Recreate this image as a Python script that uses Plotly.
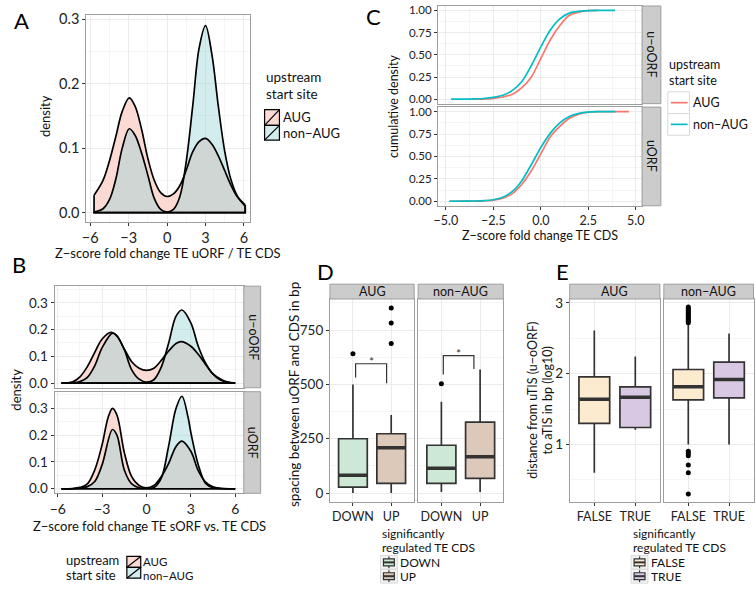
import plotly.graph_objects as go

# ---- data ----
# A: density of Z-score fold change TE uORF / TE CDS
a_aug_x = [-5.7, -5.0, -4.5, -4.0, -3.5, -2.95, -2.5, -2.0, -1.5, -1.0, -0.5, 0.0, 0.5, 1.0, 1.5, 2.0, 2.5, 3.0, 3.5, 4.0, 4.5, 5.0, 5.5, 6.1]
a_aug_y = [0.027, 0.05, 0.08, 0.118, 0.157, 0.178, 0.165, 0.13, 0.084, 0.05, 0.031, 0.025, 0.029, 0.042, 0.066, 0.094, 0.11, 0.115, 0.106, 0.088, 0.065, 0.042, 0.024, 0.01]
a_non_x = [-5.7, -5.0, -4.5, -4.0, -3.5, -2.95, -2.5, -2.0, -1.5, -1.0, -0.5, 0.0, 0.5, 1.0, 1.5, 2.0, 2.5, 3.0, 3.5, 4.0, 4.5, 5.0, 5.5, 6.1]
a_non_y = [0.001, 0.006, 0.02, 0.052, 0.1, 0.13, 0.12, 0.093, 0.058, 0.022, 0.005, 0.001, 0.005, 0.025, 0.08, 0.165, 0.255, 0.29, 0.245, 0.165, 0.095, 0.05, 0.025, 0.012]

# B: density by ORF type (facets u-oORF / uORF)
b_uo_aug_x = [-5.75, -5.0, -4.5, -4.0, -3.5, -3.0, -2.4, -2.0, -1.5, -1.0, -0.5, 0.0, 0.5, 1.0, 1.5, 2.0, 2.35, 3.0, 3.5, 4.0, 4.5, 5.0, 5.5, 6.0]
b_uo_aug_y = [0.0, 0.005, 0.024, 0.062, 0.115, 0.165, 0.19, 0.175, 0.128, 0.08, 0.056, 0.048, 0.056, 0.085, 0.12, 0.148, 0.155, 0.138, 0.108, 0.07, 0.035, 0.016, 0.004, 0.0]
b_uo_non_x = [-5.75, -5.0, -4.5, -4.0, -3.5, -3.0, -2.3, -2.0, -1.5, -1.0, -0.5, 0.0, 0.5, 1.0, 1.5, 2.0, 2.4, 3.0, 3.5, 4.0, 4.5, 5.0, 5.5, 6.0]
b_uo_non_y = [0.0, 0.001, 0.006, 0.022, 0.065, 0.133, 0.187, 0.178, 0.125, 0.05, 0.015, 0.004, 0.013, 0.06, 0.15, 0.25, 0.273, 0.225, 0.138, 0.075, 0.034, 0.012, 0.003, 0.0]
b_u_aug_x = [-5.75, -5.0, -4.5, -4.0, -3.5, -3.0, -2.6, -2.3, -2.0, -1.5, -1.0, -0.5, 0.0, 0.5, 1.0, 1.5, 2.0, 2.4, 3.0, 3.5, 4.0, 4.5, 5.0, 6.0]
b_u_aug_y = [0.0, 0.001, 0.005, 0.018, 0.07, 0.165, 0.265, 0.3, 0.275, 0.135, 0.045, 0.012, 0.003, 0.012, 0.045, 0.095, 0.158, 0.178, 0.14, 0.068, 0.025, 0.007, 0.002, 0.0]
b_u_non_x = [-5.75, -5.0, -4.5, -4.0, -3.5, -3.0, -2.3, -2.0, -1.5, -1.0, -0.5, 0.0, 0.5, 1.0, 1.5, 2.0, 2.4, 2.8, 3.0, 3.5, 4.0, 4.5, 5.0, 6.0]
b_u_non_y = [0.0, 0.0, 0.002, 0.008, 0.027, 0.09, 0.221, 0.2, 0.07, 0.018, 0.004, 0.001, 0.005, 0.04, 0.16, 0.3, 0.345, 0.27, 0.21, 0.09, 0.02, 0.004, 0.001, 0.0]

# C: cumulative density of Z-score fold change TE CDS
c_uo_aug_x = [-3.6, -3.0, -2.5, -2.0, -1.5, -1.0, -0.5, 0.0, 0.5, 1.0, 1.5, 2.0, 2.5, 3.0]
c_uo_aug_y = [0.0, 0.002, 0.008, 0.025, 0.055, 0.13, 0.25, 0.46, 0.67, 0.83, 0.945, 0.98, 0.997, 1.0]
c_uo_non_x = [-4.73, -4.0, -3.5, -3.0, -2.5, -2.0, -1.5, -1.0, -0.5, 0.0, 0.5, 1.0, 1.5, 2.0, 2.5, 3.0, 3.91]
c_uo_non_y = [0.0, 0.001, 0.003, 0.008, 0.02, 0.045, 0.1, 0.2, 0.38, 0.59, 0.78, 0.905, 0.97, 0.99, 0.998, 1.0, 1.0]
c_u_aug_x = [-4.82, -4.0, -3.5, -3.0, -2.5, -2.0, -1.5, -1.0, -0.5, 0.0, 0.5, 1.0, 1.5, 2.0, 2.5, 3.0, 4.0, 4.64]
c_u_aug_y = [0.0, 0.001, 0.002, 0.005, 0.013, 0.035, 0.085, 0.19, 0.34, 0.53, 0.72, 0.835, 0.925, 0.97, 0.993, 0.999, 1.0, 1.0]
c_u_non_x = [-4.82, -4.0, -3.5, -3.0, -2.5, -2.0, -1.5, -1.0, -0.5, 0.0, 0.5, 1.0, 1.5, 2.0, 2.5, 3.0, 3.93]
c_u_non_y = [0.0, 0.001, 0.003, 0.007, 0.017, 0.045, 0.11, 0.23, 0.41, 0.6, 0.76, 0.875, 0.945, 0.98, 0.995, 0.999, 1.0]

# D: spacing between uORF and CDS (bp), boxes DOWN / UP
d_groups = ["DOWN", "UP"]
d_aug_low = [0, 0]
d_aug_q1 = [27, 45]
d_aug_med = [82, 209]
d_aug_q3 = [250, 273]
d_aug_high = [500, 359]
d_aug_out = [[641], [688, 783, 851]]
d_non_low = [5, 5]
d_non_q1 = [45, 68]
d_non_med = [114, 167]
d_non_q3 = [220, 326]
d_non_high = [420, 568]
d_non_out = [[503], []]
d_aug_bracket_x = [1.07, 1.07, 1.88, 1.88]
d_aug_bracket_y = [532, 595, 595, 505]
d_non_bracket_x = [1.05, 1.05, 1.84, 1.84]
d_non_bracket_y = [545, 632, 632, 571]

# E: distance uTIS to aTIS (log10 bp), boxes FALSE / TRUE
e_groups = ["FALSE", "TRUE"]
e_aug_low = [0.6, 1.21]
e_aug_q1 = [1.30, 1.24]
e_aug_med = [1.64, 1.667]
e_aug_q3 = [1.955, 1.815]
e_aug_high = [2.61, 2.245]
e_aug_out = [[], []]
e_non_low = [1.0, 1.0]
e_non_q1 = [1.63, 1.66]
e_non_med = [1.815, 1.92]
e_non_q3 = [2.06, 2.165]
e_non_high = [2.70, 2.57]
e_non_out = [[2.72, 2.74, 2.76, 2.78, 2.8, 2.82, 2.84, 2.86, 2.88, 2.9, 2.92, 2.944,
              0.906, 0.874, 0.84, 0.71, 0.6, 0.3], []]

# ---- styling ----
W, H = 756, 593
FONT = "Lato"
RED = "#F8766D"
TEAL = "#00BFC4"
PINK_FILL = "rgb(251,218,212)"
CYAN_FILL = "rgba(145,207,212,0.4)"
CYAN_KEY = "rgb(211,236,238)"
D_COLORS = ["#CDE8D5", "#DCC9BA"]
E_COLORS = ["#FDEBD0", "#D8C8E4"]
GRID = "#EBEBEB"
MINOR = "#F5F5F5"
BORDER = "#9E9E9E"
STRIP = "#CCCCCC"
DARK = "#333333"


def xd(a, b):
    return [a / W, b / W]


def yd(top, bottom):
    return [1 - bottom / H, 1 - top / H]


def px(x):
    return x / W


def py(y):
    return 1 - y / H


fig = go.Figure()


def add_density_pair(aug, non, xa, ya):
    for (xs, ys), color in ((aug, PINK_FILL), (non, CYAN_FILL)):
        fig.add_trace(go.Scatter(x=xs, y=ys, mode="lines", fill="tozeroy", fillcolor=color,
                                 line=dict(width=0, shape="spline"), xaxis=xa, yaxis=ya,
                                 hoverinfo="skip", showlegend=False))
    for xs, ys in (aug, non):
        fig.add_trace(go.Scatter(x=xs, y=ys, mode="lines",
                                 line=dict(color="black", width=1.7, shape="spline"),
                                 xaxis=xa, yaxis=ya, hoverinfo="skip", showlegend=False))
        # closing edges down to the baseline
        fig.add_trace(go.Scatter(x=[xs[0], xs[0], xs[-1], xs[-1]], y=[ys[0], 0, 0, ys[-1]],
                                 mode="lines", line=dict(color="black", width=1.7),
                                 xaxis=xa, yaxis=ya, hoverinfo="skip", showlegend=False))


add_density_pair((a_aug_x, a_aug_y), (a_non_x, a_non_y), "x", "y")
add_density_pair((b_uo_aug_x, b_uo_aug_y), (b_uo_non_x, b_uo_non_y), "x2", "y2")
add_density_pair((b_u_aug_x, b_u_aug_y), (b_u_non_x, b_u_non_y), "x3", "y3")

for (xs, ys), color, xa, ya in [
    ((c_uo_aug_x, c_uo_aug_y), RED, "x4", "y4"),
    ((c_uo_non_x, c_uo_non_y), TEAL, "x4", "y4"),
    ((c_u_aug_x, c_u_aug_y), RED, "x5", "y5"),
    ((c_u_non_x, c_u_non_y), TEAL, "x5", "y5"),
]:
    fig.add_trace(go.Scatter(x=xs, y=ys, mode="lines", line=dict(color=color, width=1.7, shape="spline", smoothing=0.8),
                             xaxis=xa, yaxis=ya, showlegend=False, name=""))


def add_boxes(low, q1, med, q3, high, outs, colors, xa, ya):
    for i in range(2):
        pos = i + 1
        fig.add_trace(go.Box(x=[pos], q1=[q1[i]], median=[med[i]], q3=[q3[i]],
                             lowerfence=[low[i]], upperfence=[high[i]], width=0.75,
                             fillcolor=colors[i], line=dict(color=DARK, width=1.7),
                             whiskerwidth=0, boxpoints=False, orientation="v",
                             xaxis=xa, yaxis=ya, showlegend=False))
        fig.add_trace(go.Scatter(x=[pos - 0.375, pos + 0.375], y=[med[i], med[i]], mode="lines",
                                 line=dict(color=DARK, width=3.5), xaxis=xa, yaxis=ya,
                                 hoverinfo="skip", showlegend=False))
        if outs[i]:
            fig.add_trace(go.Scatter(x=[pos] * len(outs[i]), y=outs[i], mode="markers",
                                     marker=dict(color="black", size=5), xaxis=xa, yaxis=ya,
                                     showlegend=False))


add_boxes(d_aug_low, d_aug_q1, d_aug_med, d_aug_q3, d_aug_high, d_aug_out, D_COLORS, "x6", "y6")
add_boxes(d_non_low, d_non_q1, d_non_med, d_non_q3, d_non_high, d_non_out, D_COLORS, "x7", "y7")
add_boxes(e_aug_low, e_aug_q1, e_aug_med, e_aug_q3, e_aug_high, e_aug_out, E_COLORS, "x8", "y8")
add_boxes(e_non_low, e_non_q1, e_non_med, e_non_q3, e_non_high, e_non_out, E_COLORS, "x9", "y9")

# significance brackets
for bx, by, xa, ya in [(d_aug_bracket_x, d_aug_bracket_y, "x6", "y6"),
                       (d_non_bracket_x, d_non_bracket_y, "x7", "y7")]:
    fig.add_trace(go.Scatter(x=bx, y=by, mode="lines", line=dict(color=DARK, width=1.2),
                             xaxis=xa, yaxis=ya, hoverinfo="skip", showlegend=False))
    fig.add_annotation(text="*", x=(bx[0] + bx[-1]) / 2, y=by[1], xref=xa, yref=ya,
                       showarrow=False, yanchor="middle", yshift=2,
                       font=dict(size=12, color=DARK, family=FONT))

# ---- axes ----
base = dict(showline=True, mirror=True, linecolor=BORDER, linewidth=1, gridcolor=GRID,
            zeroline=False, ticks="outside", ticklen=3, tickcolor=DARK)


def axis(domain, rng, fs=13, **kw):
    d = dict(base)
    d.update(domain=domain, range=rng, tickfont=dict(size=fs, color="#222", family=FONT))
    d.update(kw)
    return d


def hidden_ticks(d):
    d.update(showticklabels=False, ticks="")
    return d


mx = lambda dt, t0: dict(dtick=dt, tick0=t0, showgrid=True, gridcolor=MINOR)

layout_axes = {
    "xaxis": axis(xd(82, 247), [-6.31, 6.45], 14.5, tickvals=[-6, -3, 0, 3, 6], minor=mx(3, -4.5), anchor="y"),
    "yaxis": axis(yd(10, 220), [-0.0146, 0.3066], 14.5, tickvals=[0, 0.1, 0.2, 0.3], tickformat=".1f", minor=mx(0.1, 0.05), anchor="x"),
    "xaxis2": hidden_ticks(axis(xd(50, 241), [-6.22, 6.58], 14, tickvals=[-6, -3, 0, 3, 6], minor=mx(3, -4.5), anchor="y2")),
    "yaxis2": axis(yd(285, 388), [-0.017, 0.362], 13.5, tickvals=[0, 0.1, 0.2, 0.3], tickformat=".1f", minor=mx(0.1, 0.05), anchor="x2"),
    "xaxis3": axis(xd(50, 241), [-6.22, 6.58], 14, tickvals=[-6, -3, 0, 3, 6], minor=mx(3, -4.5), anchor="y3"),
    "yaxis3": axis(yd(392, 495), [-0.017, 0.362], 13.5, tickvals=[0, 0.1, 0.2, 0.3], tickformat=".1f", minor=mx(0.1, 0.05), anchor="x3"),
    "xaxis4": hidden_ticks(axis(xd(437, 643), [-5.42, 5.33], 12.5, tickvals=[-5, -2.5, 0, 2.5, 5], minor=mx(2.5, -3.75), anchor="y4")),
    "yaxis4": axis(yd(1, 100), [-0.05, 1.05], 11.5, tickvals=[0, 0.25, 0.5, 0.75, 1], tickformat=".2f", minor=mx(0.25, 0.125), anchor="x4"),
    "xaxis5": axis(xd(437, 643), [-5.42, 5.33], 12.5, tickvals=[-5, -2.5, 0, 2.5, 5], tickformat=".1f", minor=mx(2.5, -3.75), anchor="y5"),
    "yaxis5": axis(yd(103.5, 203.5), [-0.05, 1.05], 11.5, tickvals=[0, 0.25, 0.5, 0.75, 1], tickformat=".2f", minor=mx(0.25, 0.125), anchor="x5"),
    "xaxis6": axis(xd(328, 413), [0.4, 2.6], 12.5, tickvals=[1, 2], ticktext=d_groups, anchor="y6"),
    "yaxis6": axis(yd(298, 504), [-42, 893], 13.5, tickvals=[0, 250, 500, 750], minor=mx(250, 125), anchor="x6"),
    "xaxis7": axis(xd(417, 503), [0.4, 2.6], 12.5, tickvals=[1, 2], ticktext=d_groups, anchor="y7"),
    "yaxis7": hidden_ticks(axis(yd(298, 504), [-42, 893], 13.5, tickvals=[0, 250, 500, 750], minor=mx(250, 125), anchor="x7")),
    "xaxis8": axis(xd(570, 661), [0.4, 2.6], 12.5, tickvals=[1, 2], ticktext=e_groups, anchor="y8"),
    "yaxis8": axis(yd(298, 504), [0.185, 3.056], 13.5, tickvals=[1, 2, 3], minor=mx(1, 0.5), anchor="x8"),
    "xaxis9": axis(xd(665, 755.5), [0.4, 2.6], 12.5, tickvals=[1, 2], ticktext=e_groups, anchor="y9"),
    "yaxis9": hidden_ticks(axis(yd(298, 504), [0.185, 3.056], 13.5, tickvals=[1, 2, 3], minor=mx(1, 0.5), anchor="x9")),
}

# ---- strips, legend keys, text ----
shapes = []
annotations = []


def rect(x0, y0, x1, y1, fill, line=BORDER, width=1):
    shapes.append(dict(type="rect", xref="paper", yref="paper", x0=px(x0), x1=px(x1),
                       y0=py(y1), y1=py(y0), fillcolor=fill, line=dict(color=line, width=width)))


def seg(x0, y0, x1, y1, color="black", width=1.2):
    shapes.append(dict(type="line", xref="paper", yref="paper", x0=px(x0), x1=px(x1),
                       y0=py(y0), y1=py(y1), line=dict(color=color, width=width)))


def text(t, x, y, size=12.5, xanchor="center", angle=0, color="#111"):
    annotations.append(dict(text=t, x=px(x), y=py(y), xref="paper", yref="paper",
                            showarrow=False, xanchor=xanchor, yanchor="middle", textangle=angle,
                            align=xanchor if xanchor != "center" else "center",
                            borderpad=0, font=dict(size=size, color=color, family=FONT)))


# strips
rect(241, 285, 258, 388, STRIP)
rect(241, 392, 258, 495, STRIP)
text("u−oORF", 250, 336.5, angle=90)
text("uORF", 250, 443.5, angle=90)
rect(643, 1, 662, 100, STRIP)
rect(643, 103.5, 662, 203.5, STRIP)
text("u−oORF", 652.5, 50.5, angle=90)
text("uORF", 652.5, 153.5, angle=90)
for x0, x1, lab in [(328, 413, "AUG"), (417, 503, "non−AUG"), (570, 661, "AUG"), (665, 755.5, "non−AUG")]:
    rect(x0, 283, x1, 298, STRIP)
    text(lab, (x0 + x1) / 2, 290.5)

# panel letters
for lab, x, y in [("A", 17, 16), ("B", 14, 263), ("C", 372, 12), ("D", 323, 270), ("E", 563, 270)]:
    text(lab, x, y, size=22, color="black")

# axis titles
text("density", 41, 113, angle=-90, size=13)
text("Z−score fold change TE uORF / TE CDS", 165, 251, size=13)
text("density", 11, 390, angle=-90, size=13)
text("Z−score fold change TE sORF vs. TE CDS", 146, 528, size=13)
text("cumulative density", 392, 102, angle=-90)
text("Z−score fold change TE CDS", 540, 234)
text("spacing between uORF and CDS in bp", 291, 395, angle=-90, size=13.5)
text("distance from uTIS (u−oORF)", 533, 401, angle=-90)
text("to aTIS in bp (log10)", 548, 401, angle=-90)

# legend A
text("upstream", 262, 73, xanchor="left", size=13.5)
text("start site", 262, 90, xanchor="left", size=13.5)
for (y0, y1), fill, lab in [((106, 122), PINK_FILL, "AUG"), ((122, 137), CYAN_KEY, "non−AUG")]:
    rect(262, y0, 277, y1, fill, line="black", width=1.2)
    seg(262, y1, 277, y0)
    text(lab, 280, (y0 + y1) / 2, xanchor="left", size=13)

# legend B
text("upstream", 61, 563, xanchor="left", size=13)
text("start site", 61, 578, xanchor="left", size=13)
for (y0, y1), ty, fill, lab in [((559, 570), 564, PINK_FILL, "AUG"), ((570, 581), 578, CYAN_KEY, "non−AUG")]:
    rect(123, y0, 137, y1, fill, line="black", width=1.2)
    seg(123, y1, 137, y0)
    text(lab, 138, ty, xanchor="left", size=11.5)

# legend C
text("upstream", 669, 60, xanchor="left")
text("start site", 669, 77, xanchor="left")
for (y0, y1), color, lab in [((88, 110), RED, "AUG"), ((110, 132), TEAL, "non−AUG")]:
    rect(669, y0, 691, y1, "white", line="#D9D9D9", width=1)
    seg(672, (y0 + y1) / 2, 689, (y0 + y1) / 2, color=color, width=1.7)
    text(lab, 693, (y0 + y1) / 2, xanchor="left")

# legends D and E
for lx, colors, labs in [(380, D_COLORS, d_groups), (633, E_COLORS, e_groups)]:
    text("significantly", lx, 536, xanchor="left", size=12)
    text("regulated TE CDS", lx, 550, xanchor="left", size=12)
    for (y0, y1), fill, lab in [((558, 572), colors[0], labs[0]), ((572, 586), colors[1], labs[1])]:
        rect(lx - 1, y0, lx + 16, y1, "#F2F2F2", line="#D9D9D9", width=1)
        cx = lx + 7.5
        seg(cx, y0 + 1, cx, y1 - 1, color=DARK, width=1.2)
        rect(lx + 2, y0 + 3.5, lx + 13, y1 - 3.5, fill, line=DARK, width=1.2)
        seg(lx + 2, (y0 + y1) / 2, lx + 13, (y0 + y1) / 2, color=DARK, width=2)
        text(lab, lx + 18, (y0 + y1) / 2, xanchor="left", size=12)

fig.update_layout(
    width=W, height=H,
    margin=dict(l=0, r=0, t=0, b=0),
    paper_bgcolor="white", plot_bgcolor="white",
    font=dict(family=FONT, size=12, color="#222"),
    showlegend=False,
    shapes=shapes, annotations=list(fig.layout.annotations) + annotations,
    **layout_axes,
)

fig.write_html("out.html", config={"displayModeBar": False},
               post_script="document.body.style.margin='0px';")
